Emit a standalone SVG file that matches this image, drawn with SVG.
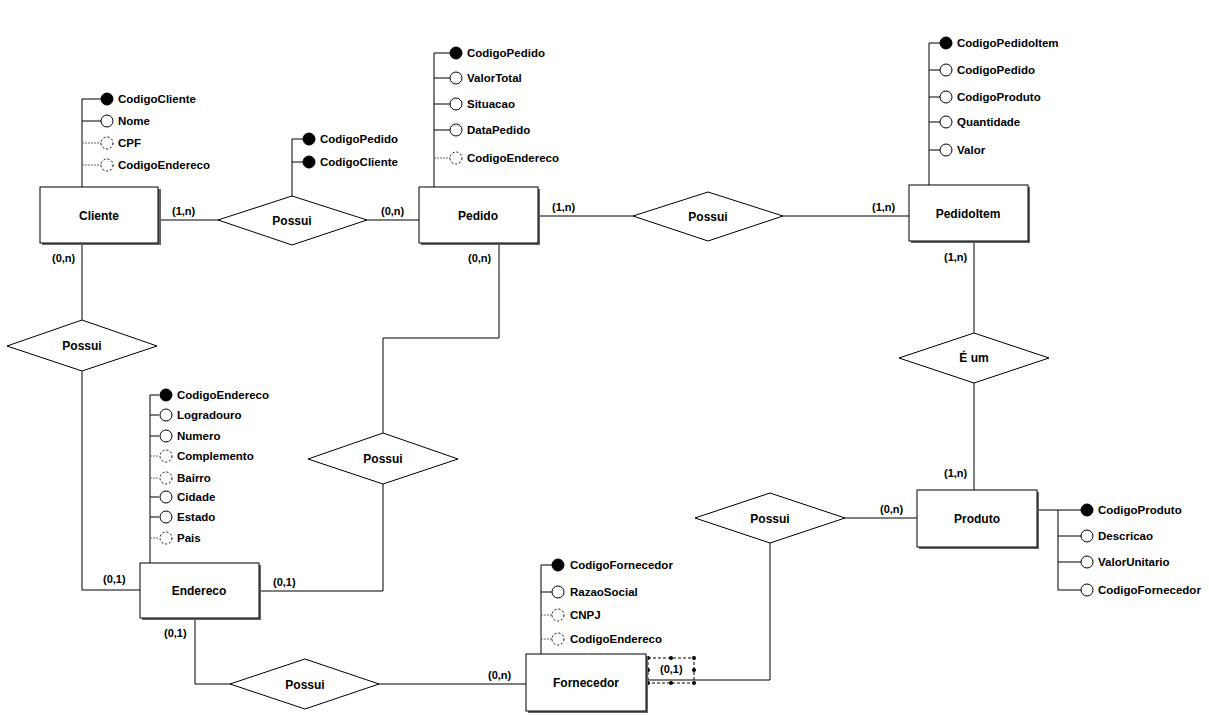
<svg xmlns="http://www.w3.org/2000/svg" width="1209" height="715" viewBox="0 0 1209 715">
<style>
.ent{fill:#fff;stroke:#000;stroke-width:1}
.sh{fill:#666;stroke:none}
.rel{fill:#fff;stroke:#000;stroke-width:1}
.ln{fill:none;stroke:#000;stroke-width:1}
.dl{fill:none;stroke:#666;stroke-width:1;stroke-dasharray:2,1}
.pk{fill:#000;stroke:#000}
.at{fill:#fff;stroke:#000;stroke-width:1}
.op{fill:#fff;stroke:#000;stroke-width:1;stroke-dasharray:2,2}
text{font-family:"Liberation Sans",Arial,sans-serif;font-weight:bold;fill:#000}
.t{font-size:11.5px;dominant-baseline:central}
.n{font-size:12px;text-anchor:middle;dominant-baseline:central}
.c{font-size:11px;dominant-baseline:central}
.sel{fill:none;stroke:#000;stroke-width:1;stroke-dasharray:3,2}
</style>
<rect width="1209" height="715" fill="#fff"/>

<g id="connectors">
<!-- Cliente - Possui1 - Pedido -->
<polyline class="ln" points="158,220 218,220"/>
<polyline class="ln" points="367,220 419,220"/>
<!-- Cliente - Possui2 - Endereco -->
<polyline class="ln" points="82,243 82,320"/>
<polyline class="ln" points="82,371 82,590 140,590"/>
<!-- Pedido - Possui3 - Endereco -->
<polyline class="ln" points="499,243 499,338 383,338 383,433"/>
<polyline class="ln" points="383,484 383,591 259,591"/>
<!-- Pedido - Possui4 - PedidoItem -->
<polyline class="ln" points="538,216 633,216"/>
<polyline class="ln" points="783,216 909,216"/>
<!-- PedidoItem - É um - Produto -->
<polyline class="ln" points="974,241 974,333"/>
<polyline class="ln" points="974,383 974,490"/>
<!-- Produto - Possui5 - Fornecedor -->
<polyline class="ln" points="917,518 845,518"/>
<polyline class="ln" points="770,543 770,680 646,680"/>
<!-- Endereco - Possui6 - Fornecedor -->
<polyline class="ln" points="195,618 195,684 230,684"/>
<polyline class="ln" points="379,684 526,684"/>
<text class="c" x="172" y="211">(1,n)</text>
<text class="c" x="381" y="211">(0,n)</text>
<text class="c" x="52" y="258">(0,n)</text>
<text class="c" x="103" y="579">(0,1)</text>
<text class="c" x="468" y="258">(0,n)</text>
<text class="c" x="273" y="582">(0,1)</text>
<text class="c" x="552" y="207">(1,n)</text>
<text class="c" x="872" y="207">(1,n)</text>
<text class="c" x="944" y="257">(1,n)</text>
<text class="c" x="944" y="473">(1,n)</text>
<text class="c" x="880" y="509">(0,n)</text>
<text class="c" x="164" y="633">(0,1)</text>
<text class="c" x="488" y="675">(0,n)</text>
<text class="c" x="660" y="669">(0,1)</text>
<rect class="sel" x="648" y="658" width="46" height="25"/>
<g fill="#000">
<circle cx="648" cy="658" r="2"/><circle cx="671" cy="658" r="2"/><circle cx="694" cy="658" r="2"/>
<circle cx="648" cy="670" r="2"/><circle cx="694" cy="670" r="2"/>
<circle cx="648" cy="683" r="2"/><circle cx="671" cy="683" r="2"/><circle cx="694" cy="683" r="2"/>
</g>
</g>

<!-- Cliente -->
<g id="cliente">
<polyline class="ln" points="82,187 82,99 101,99"/>
<line class="ln" x1="82" y1="121" x2="101" y2="121"/>
<line class="dl" x1="82" y1="143" x2="101" y2="143"/>
<line class="dl" x1="82" y1="165" x2="101" y2="165"/>
<circle class="pk" cx="107" cy="99" r="6"/>
<circle class="at" cx="107" cy="121" r="6"/>
<circle class="op" cx="107" cy="143" r="6"/>
<circle class="op" cx="107" cy="165" r="6"/>
<text class="t" x="118" y="99">CodigoCliente</text>
<text class="t" x="118" y="121">Nome</text>
<text class="t" x="118" y="143">CPF</text>
<text class="t" x="118" y="165">CodigoEndereco</text>
<rect class="sh" x="42" y="189" width="119" height="56"/>
<rect class="ent" x="40" y="187" width="118" height="56"/>
<text class="n" x="99" y="216">Cliente</text>
</g>

<!-- Possui Cliente-Pedido -->
<g id="possui1">
<polyline class="ln" points="292,196 292,139 303,139"/>
<line class="ln" x1="292" y1="162" x2="303" y2="162"/>
<circle class="pk" cx="309" cy="139" r="6"/>
<circle class="pk" cx="309" cy="162" r="6"/>
<text class="t" x="320" y="139">CodigoPedido</text>
<text class="t" x="320" y="162">CodigoCliente</text>
<polygon class="rel" points="218,220 292,196 367,220 292,245"/>
<text class="n" x="292" y="221">Possui</text>
</g>

<!-- Pedido -->
<g id="pedido">
<polyline class="ln" points="434,187 434,53 450,53"/>
<line class="ln" x1="434" y1="78" x2="450" y2="78"/>
<line class="ln" x1="434" y1="104" x2="450" y2="104"/>
<line class="ln" x1="434" y1="130" x2="450" y2="130"/>
<line class="dl" x1="434" y1="158" x2="450" y2="158"/>
<circle class="pk" cx="456" cy="53" r="6"/>
<circle class="at" cx="456" cy="78" r="6"/>
<circle class="at" cx="456" cy="104" r="6"/>
<circle class="at" cx="456" cy="130" r="6"/>
<circle class="op" cx="456" cy="158" r="6"/>
<text class="t" x="467" y="53">CodigoPedido</text>
<text class="t" x="467" y="78">ValorTotal</text>
<text class="t" x="467" y="104">Situacao</text>
<text class="t" x="467" y="130">DataPedido</text>
<text class="t" x="467" y="158">CodigoEndereco</text>
<rect class="sh" x="421" y="189" width="119" height="56"/>
<rect class="ent" x="419" y="187" width="119" height="56"/>
<text class="n" x="478" y="216">Pedido</text>
</g>

<!-- Possui Pedido-PedidoItem -->
<g id="possui4">
<polygon class="rel" points="633,216 708,192 783,216 708,241"/>
<text class="n" x="708" y="217">Possui</text>
</g>

<!-- PedidoItem -->
<g id="pedidoitem">
<polyline class="ln" points="929,185 929,43 940,43"/>
<line class="ln" x1="929" y1="70" x2="940" y2="70"/>
<line class="ln" x1="929" y1="97" x2="940" y2="97"/>
<line class="ln" x1="929" y1="122" x2="940" y2="122"/>
<line class="ln" x1="929" y1="150" x2="940" y2="150"/>
<circle class="pk" cx="946" cy="43" r="6"/>
<circle class="at" cx="946" cy="70" r="6"/>
<circle class="at" cx="946" cy="97" r="6"/>
<circle class="at" cx="946" cy="122" r="6"/>
<circle class="at" cx="946" cy="150" r="6"/>
<text class="t" x="957" y="43">CodigoPedidoItem</text>
<text class="t" x="957" y="70">CodigoPedido</text>
<text class="t" x="957" y="97">CodigoProduto</text>
<text class="t" x="957" y="122">Quantidade</text>
<text class="t" x="957" y="150">Valor</text>
<rect class="sh" x="911" y="187" width="119" height="56"/>
<rect class="ent" x="909" y="185" width="119" height="56"/>
<text class="n" x="968" y="214">PedidoItem</text>
</g>

<!-- Possui Cliente-Endereco -->
<g id="possui2">
<polygon class="rel" points="7,346 82,320 157,346 82,371"/>
<text class="n" x="82" y="346">Possui</text>
</g>

<!-- É um -->
<g id="eum">
<polygon class="rel" points="899,358 974,333 1049,358 974,383"/>
<text class="n" x="974" y="358">É um</text>
</g>

<!-- Possui Pedido-Endereco -->
<g id="possui3">
<polygon class="rel" points="308,459 383,433 458,459 383,484"/>
<text class="n" x="383" y="459">Possui</text>
</g>

<!-- Endereco -->
<g id="endereco">
<polyline class="ln" points="150,563 150,395 159,395"/>
<line class="ln" x1="150" y1="415" x2="159" y2="415"/>
<line class="ln" x1="150" y1="436" x2="159" y2="436"/>
<line class="dl" x1="150" y1="456" x2="159" y2="456"/>
<line class="dl" x1="150" y1="478" x2="159" y2="478"/>
<line class="ln" x1="150" y1="497" x2="159" y2="497"/>
<line class="ln" x1="150" y1="517" x2="159" y2="517"/>
<line class="dl" x1="150" y1="538" x2="159" y2="538"/>
<circle class="pk" cx="166" cy="395" r="6"/>
<circle class="at" cx="166" cy="415" r="6"/>
<circle class="at" cx="166" cy="436" r="6"/>
<circle class="op" cx="166" cy="456" r="6"/>
<circle class="op" cx="166" cy="478" r="6"/>
<circle class="at" cx="166" cy="497" r="6"/>
<circle class="at" cx="166" cy="517" r="6"/>
<circle class="op" cx="166" cy="538" r="6"/>
<text class="t" x="177" y="395">CodigoEndereco</text>
<text class="t" x="177" y="415">Logradouro</text>
<text class="t" x="177" y="436">Numero</text>
<text class="t" x="177" y="456">Complemento</text>
<text class="t" x="177" y="478">Bairro</text>
<text class="t" x="177" y="497">Cidade</text>
<text class="t" x="177" y="517">Estado</text>
<text class="t" x="177" y="538">Pais</text>
<rect class="sh" x="142" y="565" width="119" height="55"/>
<rect class="ent" x="140" y="563" width="119" height="55"/>
<text class="n" x="199" y="591">Endereco</text>
</g>

<!-- Possui Endereco-Fornecedor -->
<g id="possui6">
<polygon class="rel" points="230,684 305,659 379,684 305,709"/>
<text class="n" x="305" y="685">Possui</text>
</g>

<!-- Fornecedor -->
<g id="fornecedor">
<polyline class="ln" points="541,654 541,565 552,565"/>
<line class="ln" x1="541" y1="592" x2="552" y2="592"/>
<line class="dl" x1="541" y1="615" x2="552" y2="615"/>
<line class="dl" x1="541" y1="639" x2="552" y2="639"/>
<circle class="pk" cx="558" cy="565" r="6"/>
<circle class="at" cx="558" cy="592" r="6"/>
<circle class="op" cx="558" cy="615" r="6"/>
<circle class="op" cx="558" cy="639" r="6"/>
<text class="t" x="570" y="565">CodigoFornecedor</text>
<text class="t" x="570" y="592">RazaoSocial</text>
<text class="t" x="570" y="615">CNPJ</text>
<text class="t" x="570" y="639">CodigoEndereco</text>
<rect class="sh" x="528" y="656" width="120" height="57"/>
<rect class="ent" x="526" y="654" width="120" height="57"/>
<text class="n" x="586" y="683">Fornecedor</text>
</g>

<!-- Possui Produto-Fornecedor -->
<g id="possui5">
<polygon class="rel" points="695,518 770,493 845,518 770,543"/>
<text class="n" x="770" y="519">Possui</text>
</g>

<!-- Produto -->
<g id="produto">
<polyline class="ln" points="1037,510 1081,510"/>
<polyline class="ln" points="1058,510 1058,590 1081,590"/>
<line class="ln" x1="1058" y1="536" x2="1081" y2="536"/>
<line class="ln" x1="1058" y1="562" x2="1081" y2="562"/>
<circle class="pk" cx="1087" cy="510" r="6"/>
<circle class="at" cx="1087" cy="536" r="6"/>
<circle class="at" cx="1087" cy="562" r="6"/>
<circle class="at" cx="1087" cy="590" r="6"/>
<text class="t" x="1098" y="510">CodigoProduto</text>
<text class="t" x="1098" y="536">Descricao</text>
<text class="t" x="1098" y="562">ValorUnitario</text>
<text class="t" x="1098" y="590">CodigoFornecedor</text>
<rect class="sh" x="919" y="492" width="120" height="57"/>
<rect class="ent" x="917" y="490" width="120" height="57"/>
<text class="n" x="977" y="519">Produto</text>
</g>
</svg>
